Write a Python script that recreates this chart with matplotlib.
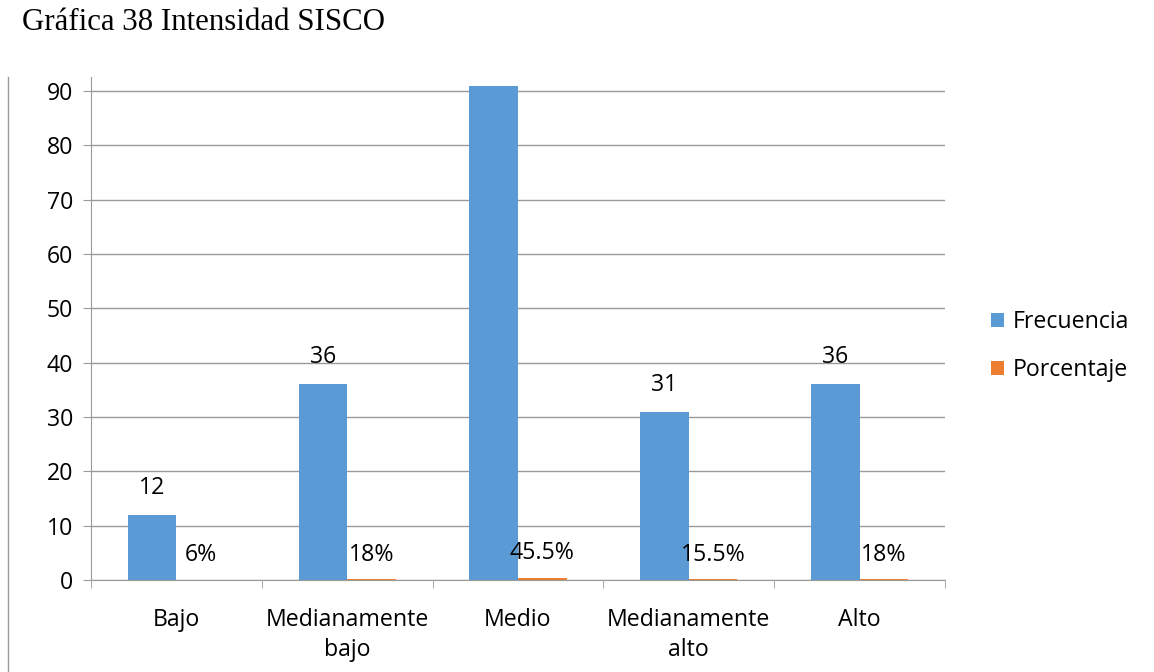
import matplotlib
matplotlib.use("Agg")
import matplotlib.pyplot as plt
import numpy as np
from matplotlib.lines import Line2D

categories = ["Bajo", "Medianamente\nbajo", "Medio", "Medianamente\nalto", "Alto"]
frecuencia = [12, 36, 91, 31, 36]
porcentaje = [0.06, 0.18, 0.455, 0.155, 0.18]
porcentaje_labels = ["6%", "18%", "45.5%", "15.5%", "18%"]
yticks = [0, 10, 20, 30, 40, 50, 60, 70, 80, 90]

plt.rcParams['font.family'] = ['Open Sans', 'DejaVu Sans']
FS = 16.7

fig = plt.figure(figsize=(11.54, 6.72), dpi=100)
ax = fig.add_axes([91/1154, 1 - 580/672, (945-91)/1154, (580-77)/672])

blue = "#5B9BD5"
orange = "#ED7D31"
grid_c = "#9a9a9a"

x = np.arange(len(categories))
w = 0.285
ax.bar(x - w/2, frecuencia, w, color=blue, label="Frecuencia", zorder=3)
ax.bar(x + w/2, porcentaje, w, color=orange, label="Porcentaje", zorder=3)

ylim_top = 92.6
ax.set_ylim(0, ylim_top)
ax.set_xlim(-0.5, len(categories) - 0.5)

for xi, v in zip(x, frecuencia):
    if v + 6 < ylim_top:
        ax.annotate(str(v), (xi - w/2, v), xytext=(0, 19.5), textcoords="offset points",
                    ha="center", va="center", fontsize=FS, color="black")
for xi, v, lab in zip(x, porcentaje, porcentaje_labels):
    ax.annotate(lab, (xi + w/2, v), xytext=(0, 17.5), textcoords="offset points",
                ha="center", va="center", fontsize=FS, color="black", zorder=5)

ax.set_yticks(yticks)
ax.yaxis.grid(True, color=grid_c, linewidth=1, zorder=0)
ax.tick_params(axis="y", length=6, color=grid_c, labelsize=FS, pad=7)
ax.set_xticks(x)
ax.set_xticklabels(categories, fontsize=FS, linespacing=1.35)
ax.set_xticks(np.arange(-0.5, len(categories), 1.0), minor=True)
ax.tick_params(axis="x", which="major", length=0, pad=20)
ax.tick_params(axis="x", which="minor", length=6, color=grid_c)
for s in ["top", "right"]:
    ax.spines[s].set_visible(False)
for s in ["left", "bottom"]:
    ax.spines[s].set_color(grid_c)

ax.legend(loc="center left", bbox_to_anchor=(1.03, 0.465), frameon=False, fontsize=FS,
          handlelength=0.55, handleheight=0.55, handletextpad=0.35, labelspacing=1.05)

fig.text(22/1154, 1 - 22/672, "Gráfica 38 Intensidad SISCO", family="Liberation Serif",
         fontsize=22.2, ha="left", va="center")
fig.add_artist(Line2D([8/1154, 8/1154], [1 - 77/672, 0], color=grid_c, linewidth=1,
                      transform=fig.transFigure))

fig.savefig("out.png", dpi=100)
